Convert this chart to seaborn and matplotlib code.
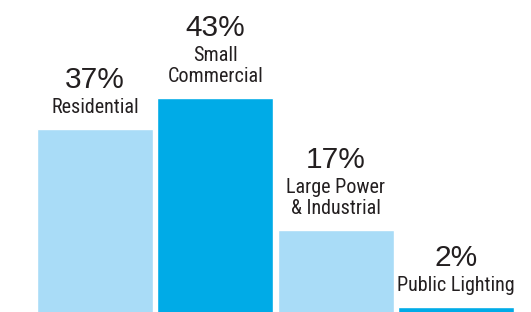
import numpy as np
import pandas as pd
import seaborn as sns
import matplotlib.pyplot as plt

categories = ["Residential", "Small\nCommercial", "Large Power\n& Industrial", "Public Lighting"]
shares = [37, 43, 17, 2]
pct_labels = ["37%", "43%", "17%", "2%"]
bar_colors = ["#A9DCF7", "#00ABE7", "#A9DCF7", "#00ABE7"]

df = pd.DataFrame({"cat": categories, "share": shares})

sns.set_style("white")
plt.rcParams["font.family"] = ["Roboto Condensed", "DejaVu Sans"]

fig = plt.figure(figsize=(5.31, 3.12), dpi=100)
# baseline sits a few pixels below the bottom edge of the picture
ax = fig.add_axes([37 / 531, -5 / 312, 477 / 531, 317 / 312])
sns.barplot(data=df, x="cat", y="share", hue="cat", palette=bar_colors,
            width=0.96, saturation=1, legend=False, ax=ax)

ax.set_xlim(-0.48, 3.48)
ax.set_ylim(0, 62.3)
ax.axis("off")

text_color = "#231F20"
line_px = 21
for i, (cat, val, pct) in enumerate(zip(categories, shares, pct_labels)):
    lines = cat.split("\n")
    # label lines drawn from the bottom up
    for j, line in enumerate(reversed(lines)):
        ax.annotate(line, xy=(i, val), xytext=(0, 16 + j * line_px),
                    textcoords="offset pixels", ha="center", va="baseline",
                    fontsize=14.5, color=text_color)
    ax.annotate(pct, xy=(i, val), xytext=(0, 16 + (len(lines) - 1) * line_px + 25),
                textcoords="offset pixels", ha="center", va="baseline",
                fontsize=21.5, family=["Liberation Sans", "DejaVu Sans"],
                color=text_color)

fig.savefig("out.png", dpi=100)
